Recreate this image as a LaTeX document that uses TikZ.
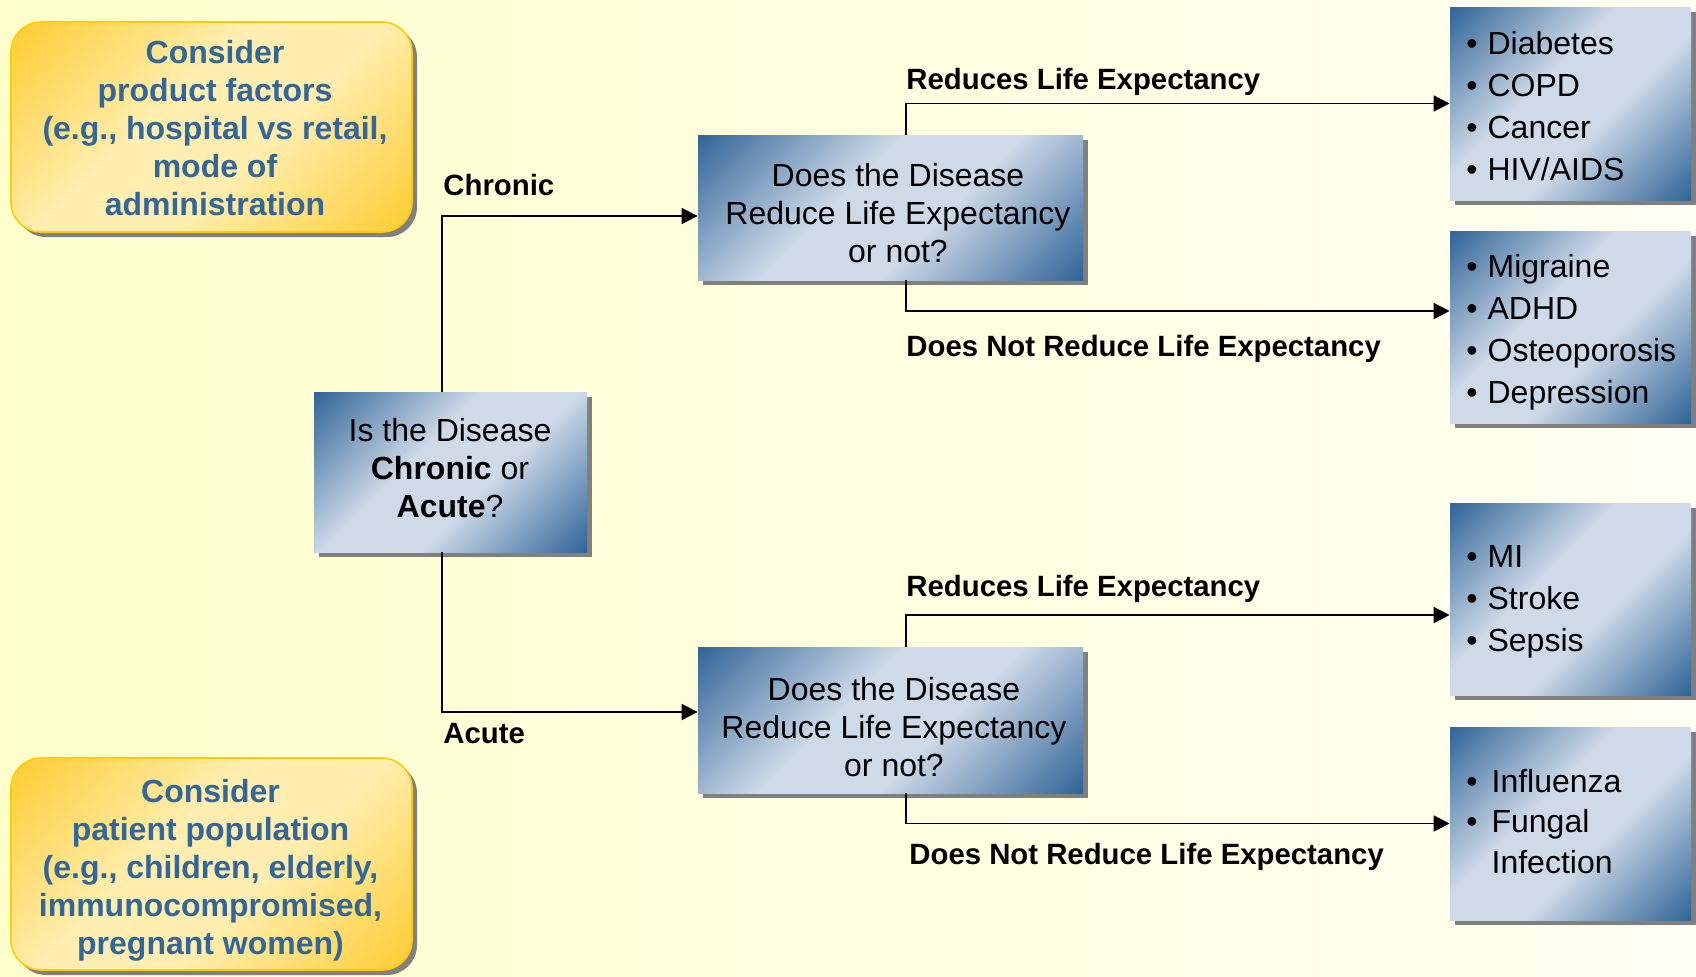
\documentclass[tikz,border=0pt]{standalone}
\usepackage{fontspec}
\setmainfont{Liberation Sans}
\usetikzlibrary{arrows.meta,shadows}

\definecolor{bgL}{RGB}{255,255,204}
\definecolor{bgR}{RGB}{255,255,242}
\definecolor{blueDark}{RGB}{51,102,153}
\definecolor{blueLight}{RGB}{206,218,232}
\definecolor{goldDark}{RGB}{255,204,51}
\definecolor{goldLight}{RGB}{255,238,175}
\definecolor{goldLine}{RGB}{255,204,0}
\definecolor{noteText}{RGB}{51,102,153}
\definecolor{shadowGray}{RGB}{128,128,128}

% diagonal fills: dark corners, broad light band in between
\pgfdeclareverticalshading{bluediag}{100bp}{color(0bp)=(blueDark); color(15bp)=(blueDark);
  color(42bp)=(blueLight); color(58bp)=(blueLight); color(85bp)=(blueDark); color(100bp)=(blueDark)}
\pgfdeclareverticalshading{golddiag}{100bp}{color(0bp)=(goldDark); color(15bp)=(goldDark);
  color(42bp)=(goldLight); color(58bp)=(goldLight); color(85bp)=(goldDark); color(100bp)=(goldDark)}

\begin{document}
\begin{tikzpicture}[x=0.5pt,y=-0.5pt,
  boxshadow/.style={drop shadow={shadow xshift=2.5pt,shadow yshift=-2.5pt,fill=shadowGray,opacity=1}},
  bluebox/.style={rectangle,inner sep=0pt,boxshadow,shade,shading=bluediag,shading angle=45},
  notebox/.style={rectangle,rounded corners=15pt,inner sep=0pt,draw=goldLine,line width=0.8pt,boxshadow,
    shade,shading=golddiag,shading angle=45},
  boxtext/.style={inner sep=0pt,anchor=base,font=\fontsize{16}{19}\selectfont},
  notetext/.style={inner sep=0pt,anchor=base,text=noteText,font=\fontsize{16}{19}\selectfont\bfseries},
  listtext/.style={inner sep=0pt,anchor=base west,font=\fontsize{16}{21}\selectfont},
  edgelabel/.style={inner sep=0pt,anchor=base west,font=\fontsize{14.67}{17}\selectfont\bfseries},
  conn/.style={line width=0.9pt,-{Triangle[length=8pt,width=8pt]}},
]
% page background
\fill[left color=bgL,right color=bgR] (0,0) rectangle (1696,976);

% side notes
\node[notebox,minimum width=200.5pt,minimum height=105pt] (prod) at (211.5,127) {};
\node[notetext] (prodtxt) at (215,63) {\begin{tabular}[t]{@{}c@{}}Consider\\product factors\\(e.g., hospital vs retail,\\mode of\\administration\end{tabular}};
\node[notebox,minimum width=200.5pt,minimum height=106pt] (pop) at (211.5,864) {};
\node[notetext] (poptxt) at (210.5,802) {\begin{tabular}[t]{@{}c@{}}Consider\\patient population\\(e.g., children, elderly,\\immunocompromised,\\pregnant women)\end{tabular}};

% first question
\node[bluebox,minimum width=136.5pt,minimum height=80pt] (ask) at (450.5,472) {};
\node[boxtext] (asktxt) at (450,441) {\begin{tabular}[t]{@{}c@{}}Is the Disease\\\textbf{Chronic} or\\\textbf{Acute}?\end{tabular}};

% second-level questions
\node[bluebox,minimum width=192.5pt,minimum height=72.5pt] (q1) at (890.5,207.5) {};
\node[boxtext] (q1txt) at (898,186) {\begin{tabular}[t]{@{}c@{}}Does the Disease\\Reduce Life Expectancy\\or not?\end{tabular}};
\node[bluebox,minimum width=192.5pt,minimum height=73pt] (q2) at (890.5,720) {};
\node[boxtext] (q2txt) at (894,700) {\begin{tabular}[t]{@{}c@{}}Does the Disease\\Reduce Life Expectancy\\or not?\end{tabular}};

% example lists
\node[bluebox,minimum width=120.5pt,minimum height=96.5pt] (r1) at (1570.5,103.5) {};
\node[listtext] (r1txt) at (1466,54) {\begin{tabular}[t]{@{}l@{\hspace{5pt}}l@{}}•&Diabetes\\•&COPD\\•&Cancer\\•&HIV/AIDS\end{tabular}};
\node[bluebox,minimum width=120.5pt,minimum height=96pt] (r2) at (1570.5,327) {};
\node[listtext] (r2txt) at (1466,277) {\begin{tabular}[t]{@{}l@{\hspace{5pt}}l@{}}•&Migraine\\•&ADHD\\•&Osteoporosis\\•&Depression\end{tabular}};
\node[bluebox,minimum width=120.5pt,minimum height=96pt] (r3) at (1570.5,599) {};
\node[listtext] (r3txt) at (1466,567) {\begin{tabular}[t]{@{}l@{\hspace{5pt}}l@{}}•&MI\\•&Stroke\\•&Sepsis\end{tabular}};
\node[bluebox,minimum width=120.5pt,minimum height=96.5pt] (r4) at (1570.5,823.5) {};
\node[listtext,font=\fontsize{16}{20.3}\selectfont] (r4txt) at (1466,792) {\begin{tabular}[t]{@{}l@{\hspace{7pt}}l@{}}•&Influenza\\•&Fungal\\&Infection\end{tabular}};

% connectors
\draw[conn] ([xshift=-4.25pt]ask.north) |- ([yshift=-4.25pt]q1.west);
\draw[conn] ([xshift=-4.25pt]ask.south) |- ([yshift=4pt]q2.west);
\draw[conn] ([xshift=7.75pt]q1.north) |- (r1.west);
\draw[conn] ([xshift=7.75pt]q1.south) |- ([yshift=8pt]r2.west);
\draw[conn] ([xshift=7.75pt]q2.north) |- ([yshift=-8pt]r3.west);
\draw[conn] ([xshift=7.75pt]q2.south) |- (r4.west);

% connector labels
\node[edgelabel] (lchron) at (443,195) {Chronic};
\node[edgelabel] (lacute) at (443,743) {Acute};
\node[edgelabel] (lred1) at (906,89) {Reduces Life Expectancy};
\node[edgelabel] (lnot1) at (906,356) {Does Not Reduce Life Expectancy};
\node[edgelabel] (lred2) at (906,596) {Reduces Life Expectancy};
\node[edgelabel] (lnot2) at (909,864) {Does Not Reduce Life Expectancy};
\end{tikzpicture}
\end{document}
